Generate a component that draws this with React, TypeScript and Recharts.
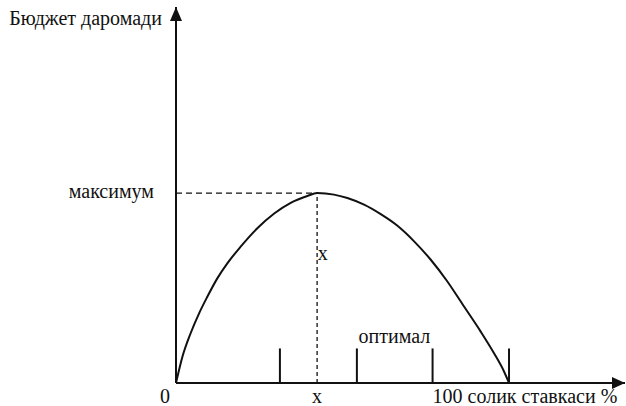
import { LineChart, Line, XAxis, YAxis, ReferenceLine, ReferenceDot } from "recharts";

// Laffer curve: budget revenue vs tax rate (units: 100 = the "100" mark on the x axis)
const rates = [0, 2.5, 5.7, 9.0, 12.2, 16.1, 20.0, 25.2, 31.7, 38.4, 44.7, 51.2, 55, 61.6, 66.8, 73.3, 79.8, 86.2, 92.8, 99.3, 105.7, 112.2, 118.7, 123.9, 127.8, 129.8];
const revenue = [0, 13.8, 26.2, 36.7, 45.4, 55.1, 63.0, 71.8, 81.5, 89.4, 94.9, 98.5, 100, 99.2, 97.4, 93.9, 88.9, 82.9, 74.6, 64.9, 53.6, 40.4, 27.2, 15.8, 6.2, 0];

const peakRate = 55;
const peakRevenue = 100;
const markRates = [40.5, 70.5, 100, 129.8];
const markHeight = 18.2;

const xMax = 175;
const yMax = 198;
const xTicks = [0, peakRate, 100];
const xTickLabels = ["0", "x", "100 солик ставкаси %"];
const yTicks = [peakRevenue, 191];
const yTickLabels = ["максимум", "Бюджет даромади"];

const data = rates.map((r, i) => ({ rate: r, revenue: revenue[i] }));

const FONT = "'Liberation Serif', 'Times New Roman', serif";
const INK = "#111";
const textStyle = { fontFamily: FONT, fontSize: 20 };

function XTick({ x, y, payload }: any) {
  const i = xTicks.indexOf(payload.value);
  const label = xTickLabels[i] ?? "";
  const anchor = i === 0 ? "end" : i === 1 ? "middle" : "start";
  const dx = i === 0 ? -6 : 0;
  return (
    <text x={x + dx} y={y + 12} textAnchor={anchor} style={textStyle} fill={INK}>
      {label}
    </text>
  );
}

function YTick({ x, y, payload }: any) {
  const i = yTicks.indexOf(payload.value);
  const label = yTickLabels[i] ?? "";
  const dx = i === 0 ? -14 : -6;
  return (
    <text x={x + dx} y={y + 5} textAnchor="end" style={textStyle} fill={INK}>
      {label}
    </text>
  );
}

const UpArrow = ({ cx, cy }: any) => (
  <path d={`M${cx},${cy} L${cx - 6},${cy + 14} L${cx + 6},${cy + 14} Z`} fill={INK} />
);
const RightArrow = ({ cx, cy }: any) => (
  <path d={`M${cx},${cy} L${cx - 13},${cy - 6} L${cx - 13},${cy + 6} Z`} fill={INK} />
);
const TextMark = (label: string) => ({ cx, cy }: any) => (
  <text x={cx} y={cy} textAnchor="middle" style={textStyle} fill={INK}>
    {label}
  </text>
);

export default function App() {
  return (
    <div style={{ position: "absolute", left: 0, top: 0, width: 626, height: 406, background: "#fff" }}>
      <LineChart width={626} height={406} data={data} margin={{ top: 7, right: 1, bottom: 0, left: 0 }}>
        <XAxis
          type="number"
          dataKey="rate"
          domain={[0, xMax]}
          ticks={xTicks}
          tick={<XTick />}
          tickLine={false}
          axisLine={{ stroke: INK, strokeWidth: 2 }}
          height={23}
          interval={0}
          allowDataOverflow
        />
        <YAxis
          type="number"
          domain={[0, yMax]}
          ticks={yTicks}
          tick={<YTick />}
          tickLine={false}
          axisLine={{ stroke: INK, strokeWidth: 2 }}
          width={176}
          interval={0}
          allowDataOverflow
        />
        <ReferenceLine
          segment={[{ x: 0, y: peakRevenue }, { x: peakRate, y: peakRevenue }]}
          stroke={INK}
          strokeWidth={1.3}
          strokeDasharray="6 4"
        />
        <ReferenceLine
          segment={[{ x: peakRate, y: 0 }, { x: peakRate, y: peakRevenue }]}
          stroke={INK}
          strokeWidth={1.3}
          strokeDasharray="4 3"
        />
        {markRates.map((m) => (
          <ReferenceLine key={m} segment={[{ x: m, y: 0 }, { x: m, y: markHeight }]} stroke={INK} strokeWidth={2} />
        ))}
        <Line type="monotone" dataKey="revenue" stroke={INK} strokeWidth={2} dot={false} isAnimationActive={false} />
        <ReferenceDot x={0} y={yMax} ifOverflow="visible" shape={UpArrow} />
        <ReferenceDot x={xMax} y={0} ifOverflow="visible" shape={RightArrow} />
        <ReferenceDot x={85.1} y={21} ifOverflow="visible" shape={TextMark("оптимал")} />
        <ReferenceDot x={57.2} y={65} ifOverflow="visible" shape={TextMark("x")} />
      </LineChart>
    </div>
  );
}
